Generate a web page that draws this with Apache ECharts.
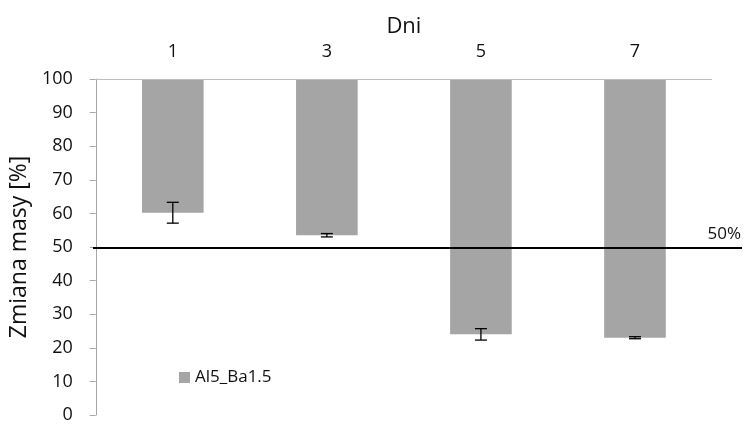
<!DOCTYPE html>
<html>
<head>
<meta charset="utf-8">
<script src="https://cdn.jsdelivr.net/npm/echarts@6/dist/echarts.min.js"></script>
<style>
  html, body { margin: 0; padding: 0; background: #fff; }
  #chart { width: 746px; height: 424px; }
</style>
</head>
<body>
<div id="chart"></div>
<script>
// Mass change after n days; bars hang from the 100 % line down to the measured value
const days = ['1', '3', '5', '7'];
const massChange = [60.2, 53.5, 24.0, 23.0];
const massError = [3.1, 0.5, 1.7, 0.3];
const thresholdValue = [50, 50];
const seriesName = 'Al5_Ba1.5';

const FONT = 'Open Sans';
const TEXT = '#111111';

const chart = echarts.init(document.getElementById('chart'), null, { renderer: 'canvas' });

const option = {
  animation: false,
  textStyle: { fontFamily: FONT },
  grid: [
    { left: 93, right: 34, top: 79, bottom: 7 },
    { left: 93, right: 4, top: 79, bottom: 7 }
  ],
  xAxis: [
    {
      type: 'category',
      data: days,
      position: 'top',
      gridIndex: 0,
      name: 'Dni',
      nameLocation: 'middle',
      nameGap: 41,
      nameTextStyle: { fontFamily: FONT, fontSize: 22, color: TEXT },
      axisLine: { show: false },
      axisTick: { show: false },
      axisLabel: { fontFamily: FONT, fontSize: 18, color: TEXT, margin: 18 },
      splitLine: { show: false }
    },
    {
      type: 'value',
      gridIndex: 1,
      min: 0,
      max: 1,
      show: false
    }
  ],
  yAxis: [
    {
      type: 'value',
      gridIndex: 0,
      min: 0,
      max: 100,
      interval: 10,
      name: 'Zmiana masy [%]',
      nameLocation: 'middle',
      nameGap: 51,
      nameTextStyle: { fontFamily: FONT, fontSize: 23, color: TEXT },
      axisLine: { show: true, lineStyle: { color: '#a6a6a6', width: 1 } },
      axisTick: { show: true, length: 6, inside: false, lineStyle: { color: '#a6a6a6' } },
      axisLabel: { fontFamily: FONT, fontSize: 18, color: TEXT, margin: 23 },
      splitLine: { show: false }
    },
    {
      type: 'value',
      gridIndex: 1,
      min: 0,
      max: 100,
      show: false
    }
  ],
  legend: {
    data: [seriesName],
    left: 174,
    top: 364,
    itemWidth: 11,
    itemHeight: 11,
    itemGap: 4,
    icon: 'rect',
    textStyle: { fontFamily: FONT, fontSize: 17, color: TEXT }
  },
  series: [
    {
      // invisible base from 0 up to the measured value
      type: 'bar',
      name: 'base',
      stack: 'mass',
      xAxisIndex: 0,
      yAxisIndex: 0,
      barWidth: '40%',
      itemStyle: { color: 'transparent' },
      silent: true,
      data: massChange
    },
    {
      // visible bar from the measured value up to 100
      type: 'bar',
      name: seriesName,
      stack: 'mass',
      xAxisIndex: 0,
      yAxisIndex: 0,
      barWidth: '40%',
      itemStyle: { color: '#a5a5a5' },
      data: massChange.map(v => 100 - v),
      markLine: {
        silent: true,
        symbol: 'none',
        label: { show: false },
        lineStyle: { color: '#bfbfbf', width: 1, type: 'solid' },
        data: [{ yAxis: 100 }]
      }
    },
    {
      // error bars around the measured value
      type: 'custom',
      name: 'error',
      xAxisIndex: 0,
      yAxisIndex: 0,
      z: 5,
      data: massChange.map((v, i) => [i, v - massError[i], v + massError[i]]),
      renderItem: function (params, api) {
        const x = api.value(0);
        const lo = api.coord([x, api.value(1)]);
        const hi = api.coord([x, api.value(2)]);
        const cap = 6;
        const style = { stroke: '#000', lineWidth: 1.3, fill: null };
        return {
          type: 'group',
          children: [
            { type: 'line', shape: { x1: lo[0], y1: lo[1], x2: hi[0], y2: hi[1] }, style: style },
            { type: 'line', shape: { x1: lo[0] - cap, y1: lo[1], x2: lo[0] + cap, y2: lo[1] }, style: style },
            { type: 'line', shape: { x1: hi[0] - cap, y1: hi[1], x2: hi[0] + cap, y2: hi[1] }, style: style }
          ]
        };
      }
    },
    {
      // 50 % reference line across the full width, labelled at its right end
      type: 'line',
      name: 'threshold',
      xAxisIndex: 1,
      yAxisIndex: 1,
      z: 6,
      symbol: 'none',
      silent: true,
      lineStyle: { color: '#000', width: 2 },
      data: thresholdValue.map((v, i) => [i, v]),
      markLine: {
        silent: true,
        symbol: 'none',
        lineStyle: { color: '#000', width: 2, type: 'solid' },
        label: {
          show: true,
          position: 'insideEndTop',
          formatter: '50%',
          fontFamily: FONT,
          fontSize: 17,
          color: TEXT,
          distance: [1, 5]
        },
        data: [{ yAxis: thresholdValue[0] }]
      }
    }
  ]
};

chart.setOption(option);
</script>
</body>
</html>
